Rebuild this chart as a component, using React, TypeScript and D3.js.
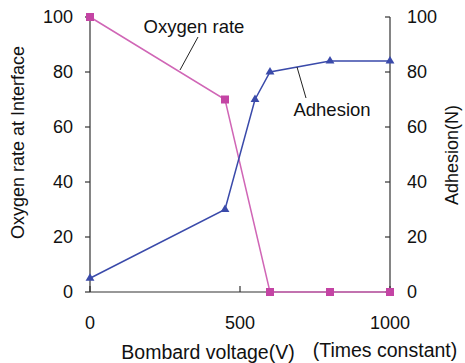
import React from "react";
import * as d3 from "d3";

const voltage = [0, 450, 600, 800, 1000];
const oxygenRate = [100, 70, 0, 0, 0];
const adhesionVoltage = [0, 450, 550, 600, 800, 1000];
const adhesion = [5, 30, 70, 80, 84, 84];
const yTicks = [0, 20, 40, 60, 80, 100];
const xTicks = [0, 500, 1000];

const W = 465, H = 363;
const M = { left: 90, right: 75, top: 17, bottom: 71 };
const FONT = "Liberation Sans, Arial, sans-serif";
const MAG = "#c444a4";
const MAG_LINE = "#d066b6";
const BLUE = "#3a4aaa";

export default function App() {
  const x = d3.scaleLinear().domain([0, 1000]).range([M.left, W - M.right]);
  const y = d3.scaleLinear().domain([0, 100]).range([H - M.bottom, M.top]);
  const ox = voltage.map((v, i) => [x(v), y(oxygenRate[i])] as [number, number]);
  const ad = adhesionVoltage.map((v, i) => [x(v), y(adhesion[i])] as [number, number]);
  const line = d3.line();
  const tri = d3.symbol().type(d3.symbolTriangle).size(34)();
  const x0 = x(0), x1 = x(1000), y0 = y(0), y1 = y(100);
  return (
    <svg width={W} height={H} style={{ position: "absolute", left: 0, top: 0, background: "#fff" }} fontFamily={FONT}>
      <rect width={W} height={H} fill="#fff" />
      {/* axes */}
      <line x1={x0} x2={x0} y1={y1} y2={y0} stroke="#333" strokeWidth={1.2} />
      <line x1={x1} x2={x1} y1={y1} y2={y0} stroke="#333" strokeWidth={1.2} />
      <line x1={x0} x2={x1} y1={y0} y2={y0} stroke="#333" strokeWidth={1.2} />
      {yTicks.map((t) => (
        <g key={"l" + t}>
          <line x1={x0 - 5} x2={x0} y1={y(t)} y2={y(t)} stroke="#333" strokeWidth={1.2} />
          <text x={x0 - 17} y={y(t)} dy="0.35em" textAnchor="end" fontSize={18} fill="#111">{t}</text>
          <line x1={x1 - 5} x2={x1} y1={y(t)} y2={y(t)} stroke="#333" strokeWidth={1.2} />
          <text x={x1 + 17} y={y(t)} dy="0.35em" textAnchor="start" fontSize={18} fill="#111">{t}</text>
        </g>
      ))}
      {xTicks.map((t) => (
        <g key={"x" + t}>
          <line x1={x(t)} x2={x(t)} y1={y0} y2={y0 - 6} stroke="#333" strokeWidth={1.2} />
          <text x={x(t)} y={y0 + 31} dy="0.35em" textAnchor="middle" fontSize={18} fill="#111">{t}</text>
        </g>
      ))}
      <text x={208} y={352} dy="0.35em" textAnchor="middle" fontSize={19.5} fill="#111">Bombard voltage(V)</text>
      <text x={385} y={350} dy="0.35em" textAnchor="middle" fontSize={19.5} fill="#111">(Times constant)</text>
      <text transform={`translate(18,${(y0 + y1) / 2 - 12}) rotate(-90)`} dy="0.35em" textAnchor="middle" fontSize={18} fill="#111">Oxygen rate at Interface</text>
      <text transform={`translate(452,155) rotate(-90)`} dy="0.35em" textAnchor="middle" fontSize={18} fill="#111">Adhesion(N)</text>
      {/* series */}
      <path d={line(ox) || ""} fill="none" stroke={MAG_LINE} strokeWidth={1.5} />
      <path d={line(ad) || ""} fill="none" stroke={BLUE} strokeWidth={1.5} />
      {ox.map(([px, py], i) => (
        <rect key={"o" + i} x={px - 4} y={py - 4} width={8} height={8} fill={MAG} />
      ))}
      {ad.map(([px, py], i) => (
        <path key={"a" + i} d={tri || ""} transform={`translate(${px},${py})`} fill={BLUE} />
      ))}
      {/* annotations */}
      <line x1={198} y1={37} x2={180} y2={70} stroke="#222" strokeWidth={1} />
      <text x={194} y={27} dy="0.35em" textAnchor="middle" fontSize={18.5} fill="#111">Oxygen rate</text>
      <line x1={297} y1={67} x2={306} y2={98} stroke="#222" strokeWidth={1} />
      <text x={332} y={110} dy="0.35em" textAnchor="middle" fontSize={18.5} fill="#111">Adhesion</text>
    </svg>
  );
}
